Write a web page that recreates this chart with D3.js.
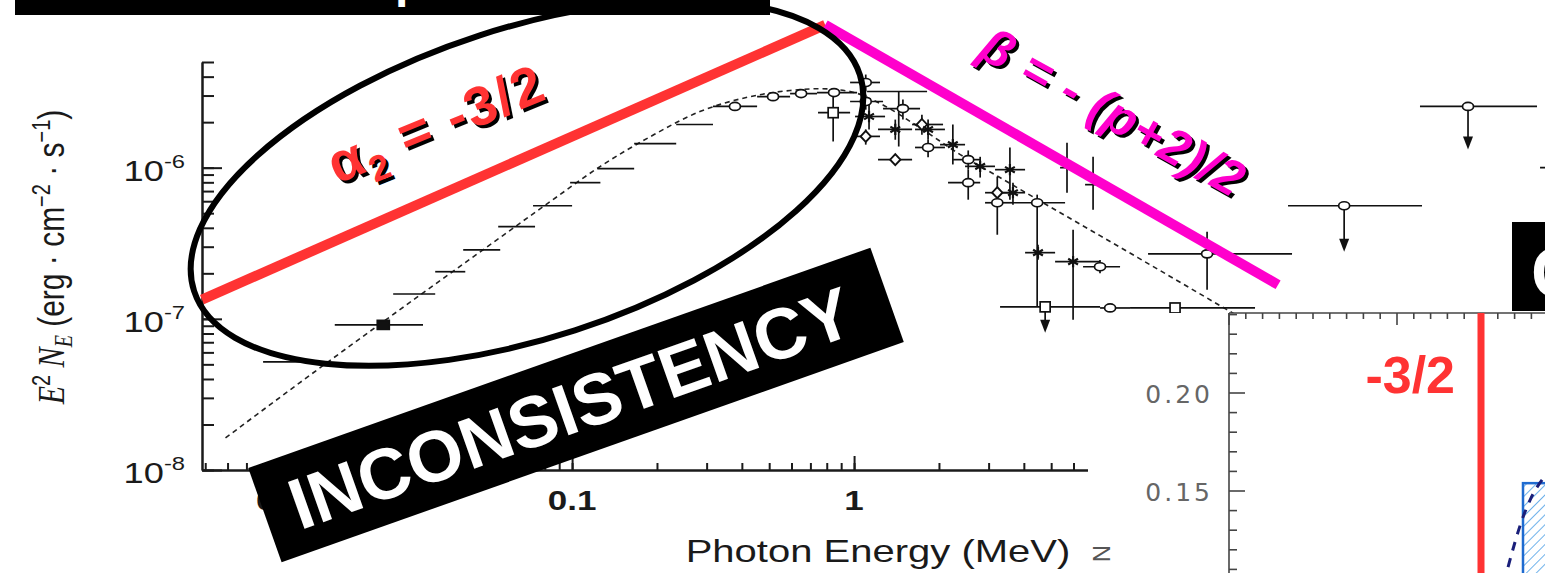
<!DOCTYPE html>
<html>
<head>
<meta charset="utf-8">
<style>
  body { margin: 0; background: #fff; }
  svg { display: block; font-family: "Liberation Sans", Arial, sans-serif; }
</style>
</head>
<body>
<script src="https://cdn.jsdelivr.net/npm/d3@7/dist/d3.min.js"></script>
<script>
var W = 1545, H = 573;

// ---- main spectrum, E in MeV, E^2 N_E in erg cm^-2 s^-1 ----
// dashed model curve
var modelE = [0.0059, 0.0108, 0.0245, 0.0483, 0.0836, 0.126, 0.189, 0.284, 0.428, 0.593,
              0.757, 0.968, 1.24, 1.71, 2.38, 3.29, 4.68, 7.45, 12.2, 21.0, 40];
var modelF = [1.63e-8, 3.77e-8, 1.15e-7, 2.86e-7, 5.96e-7, 1.02e-6, 1.60e-6, 2.35e-6, 2.95e-6, 3.24e-6,
              3.33e-6, 3.19e-6, 2.65e-6, 1.84e-6, 1.22e-6, 8.6e-7, 5.86e-7, 3.55e-7, 2.08e-7, 1.15e-7, 5.7e-8];

// measured points: [E, Elo, Ehi, F, Flo, Fhi, marker]
var points = [
  [0.0104, 0.00802, 0.0126, 5.19e-8, 5.19e-8, 5.19e-8, "none"],
  [0.0214, 0.0144, 0.0296, 9.12e-8, 9.12e-8, 9.12e-8, "fsq"],
  [0.0275, 0.0232, 0.0327, 1.46e-7, 1.46e-7, 1.46e-7, "none"],
  [0.0369, 0.0327, 0.0418, 2.05e-7, 2.05e-7, 2.05e-7, "none"],
  [0.0476, 0.0411, 0.0556, 2.86e-7, 2.86e-7, 2.86e-7, "none"],
  [0.0633, 0.0547, 0.0739, 4.07e-7, 4.07e-7, 4.07e-7, "none"],
  [0.0849, 0.0727, 0.100, 5.60e-7, 5.60e-7, 5.60e-7, "none"],
  [0.111, 0.0984, 0.126, 7.96e-7, 7.96e-7, 7.96e-7, "none"],
  [0.142, 0.123, 0.166, 9.85e-7, 9.85e-7, 9.85e-7, "none"],
  [0.197, 0.166, 0.234, 1.44e-6, 1.44e-6, 1.44e-6, "none"],
  [0.271, 0.234, 0.316, 1.93e-6, 1.93e-6, 1.93e-6, "none"],
  [0.378, 0.316, 0.453, 2.54e-6, 2.54e-6, 2.54e-6, "circ"],
  [0.516, 0.453, 0.593, 2.95e-6, 2.95e-6, 2.95e-6, "circ"],
  [0.649, 0.593, 0.739, 3.09e-6, 3.09e-6, 3.09e-6, "circ"],
  [0.849, 0.739, 1.025, 3.14e-6, 3.14e-6, 3.14e-6, "circ"],
  [0.843, 0.745, 0.968, 2.31e-6, 1.49e-6, 3.19e-6, "sq"],
  [1.10, 0.968, 1.236, 3.66e-6, 3.19e-6, 4.13e-6, "circ"],
  [1.10, 0.968, 1.267, 2.74e-6, 2.42e-6, 3.04e-6, "circ"],
  [1.13, 1.008, 1.288, 2.18e-6, 1.79e-6, 2.61e-6, "star"],
  [1.10, 0.984, 1.236, 1.61e-6, 1.42e-6, 1.79e-6, "diam"],
  [1.44, 1.112, 1.815, 3.19e-6, 1.38e-6, 3.19e-6, "none"],
  [1.49, 1.267, 1.714, 2.46e-6, 2.08e-6, 2.82e-6, "circ"],
  [1.40, 1.216, 1.606, 1.79e-6, 1.53e-6, 2.08e-6, "star"],
  [1.74, 1.606, 2.068, 1.93e-6, 1.65e-6, 2.24e-6, "diam"],
  [1.83, 1.645, 2.10, 1.79e-6, 1.53e-6, 2.08e-6, "star"],
  [1.40, 1.216, 1.606, 1.13e-6, 1.05e-6, 1.22e-6, "diam"],
  [1.83, 1.645, 2.10, 1.36e-6, 1.17e-6, 1.53e-6, "circ"],
  [2.24, 2.018, 2.475, 1.42e-6, 1.05e-6, 1.93e-6, "star"],
  [2.54, 2.244, 2.80, 1.13e-6, 9.7e-7, 1.30e-6, "circ"],
  [2.54, 2.154, 2.80, 7.96e-7, 6.14e-7, 9.7e-7, "circ"],
  [2.80, 2.475, 3.16, 1.02e-6, 8.6e-7, 1.18e-6, "star"],
  [3.57, 3.162, 4.04, 9.7e-7, 6.14e-7, 1.36e-6, "star"],
  [3.22, 2.914, 3.574, 6.83e-7, 6.83e-7, 6.83e-7, "diam"],
  [3.22, 2.914, 3.663, 5.86e-7, 3.60e-7, 8.72e-7, "circ"],
  [3.66, 3.294, 4.041, 6.83e-7, 5.69e-7, 7.96e-7, "star"],
  [4.46, 3.663, 5.601, 5.86e-7, 1.20e-7, 6.63e-7, "circ"],
  [4.49, 4.041, 5.163, 2.74e-7, 2.46e-7, 3.09e-7, "star"],
  [5.98, 5.163, 7.453, 2.39e-7, 9.85e-8, 3.89e-7, "star"],
  [7.45, 6.488, 8.775, 2.21e-7, 2.0e-7, 2.45e-7, "circ"],
  [5.69, 5.377, 6.077, 1.0e-6, 6.83e-7, 1.46e-6, "none"],
  [7.04, 6.595, 7.453, 7.72e-7, 5.27e-7, 1.18e-6, "none"],
  [8.09, 7.453, 9.52, 1.18e-7, 1.18e-7, 1.18e-7, "circ"],
  [13.75, 9.52, 26.42, 1.18e-7, 1.18e-7, 1.18e-7, "sq"],
  [17.86, 11.03, 35.74, 2.69e-7, 1.56e-7, 3.77e-7, "circ"]
];

// upper limits: [E, Elo, Ehi, F, arrow tip, marker]
var upperLimits = [
  [4.76, 3.294, 7.453, 1.20e-7, 8.08e-8, "sq"],
  [54.7, 34.59, 103.3, 5.60e-7, 2.78e-7, "circ"],
  [150.4, 101.6, 264.2, 2.54e-6, 1.32e-6, "circ"],
  [442, 270.8, 721, 1.0e-6, 5.0e-7, "circ"]
];

var xMajor = [0.01, 0.1, 1, 10, 100];
var xLabelled = [0.01, 0.1, 1];
var xLabels = ["0.01", "0.1", "1"];
var yMajor = [1e-8, 1e-7, 1e-6];
var yMajorExp = ["-8", "-7", "-6"];

// slope annotations drawn on the spectrum
var alphaLine = [[0.00487, 1.34e-7], [0.79, 8.8e-6]];
var betaLine = [[0.79, 8.8e-6], [31.9, 1.68e-7]];

// ---- inset: distribution of the low energy index ----
var insetYMajor = [0.15, 0.20];
var insetYLabels = ["0.15", "0.20"];
var insetMark = -1.5;
var insetBars = [[-1.25, -1.0, 0.154]];
var insetCurveX = [-1.339, -1.256, -1.208, -1.119];
var insetCurveY = [0.1112, 0.1352, 0.1454, 0.1577];

var red = "#ff3333", magenta = "#ff00cc";

var svg = d3.select("body").append("svg")
  .attr("width", W).attr("height", H);

svg.append("rect").attr("width", W).attr("height", H).attr("fill", "#fff");

var defs = svg.append("defs");
var hatch = defs.append("pattern").attr("id", "hatch")
  .attr("width", 7).attr("height", 7)
  .attr("patternUnits", "userSpaceOnUse")
  .attr("patternTransform", "rotate(45)");
hatch.append("rect").attr("width", 7).attr("height", 7).attr("fill", "#fff");
hatch.append("line").attr("x1", 0).attr("y1", 0).attr("x2", 0).attr("y2", 7)
  .attr("stroke", "#4a9fe6").attr("stroke-width", 1.6);

// scales
var x = d3.scaleLog().domain([0.00487, 282]).range([202, 1545]);
var y = d3.scaleLog().domain([1e-8, 5e-6]).range([470, 62]);

// ---- axes of the spectrum ----
var gx = svg.append("g").attr("transform", "translate(0,470)");
gx.call(d3.axisBottom(x).tickValues(x.ticks()).tickSize(-7).tickSizeOuter(0).tickFormat(""));
gx.append("g").call(d3.axisBottom(x).tickValues(xMajor).tickSize(-14).tickSizeOuter(0).tickFormat(""));
gx.selectAll("line, path").attr("stroke", "#1a1a1a").attr("stroke-width", 2);

var gy = svg.append("g").attr("transform", "translate(202,0)");
gy.call(d3.axisLeft(y).tickValues(y.ticks()).tickSize(-12).tickSizeOuter(0).tickFormat(""));
gy.append("g").call(d3.axisLeft(y).tickValues(yMajor).tickSize(-20).tickSizeOuter(0).tickFormat(""));
gy.selectAll("line, path").attr("stroke", "#1a1a1a").attr("stroke-width", 2);

// x tick labels
svg.append("g").selectAll("text").data(xLabelled).enter().append("text")
  .attr("transform", function(d) { return "translate(" + x(d) + ",510) scale(1.25,1)"; })
  .attr("text-anchor", "middle").attr("font-size", 28).attr("font-weight", "bold")
  .attr("fill", "#1a1a1a")
  .text(function(d, i) { return xLabels[i]; });

// y tick labels 10^n
var yl = svg.append("g").selectAll("text").data(yMajor).enter().append("text")
  .attr("transform", function(d) { return "translate(185," + (y(d) + 13) + ") scale(1.25,1)"; })
  .attr("text-anchor", "end").attr("fill", "#1a1a1a");
yl.append("tspan").attr("font-size", 29).text("10");
yl.append("tspan").attr("font-size", 19).attr("dy", -13).text(function(d, i) { return yMajorExp[i]; });

// axis titles
svg.append("text")
  .attr("transform", "translate(878,562) scale(1.25,1)")
  .attr("text-anchor", "middle").attr("font-size", 32).attr("fill", "#1a1a1a")
  .text("Photon Energy (MeV)");

var yt = svg.append("text")
  .attr("transform", "translate(64,257) scale(1.25,1) rotate(-90)")
  .attr("text-anchor", "middle").attr("font-size", 30).attr("fill", "#1a1a1a");
var serif = "'Liberation Serif', 'DejaVu Serif', serif";
yt.append("tspan").attr("font-family", serif).attr("font-style", "italic").text("E");
yt.append("tspan").attr("font-size", 20).attr("dy", -11).text("2");
yt.append("tspan").attr("font-family", serif).attr("font-style", "italic").attr("dy", 11).text(" N");
yt.append("tspan").attr("font-family", serif).attr("font-style", "italic").attr("font-size", 20).attr("dy", 6).text("E");
yt.append("tspan").attr("dy", -6).text(" (erg \u00b7 cm");
yt.append("tspan").attr("font-size", 20).attr("dy", -11).text("\u22122");
yt.append("tspan").attr("dy", 11).text(" \u00b7 s");
yt.append("tspan").attr("font-size", 20).attr("dy", -11).text("\u22121");
yt.append("tspan").attr("dy", 11).text(")");

// ---- model curve ----
svg.append("path")
  .datum(d3.zip(modelE, modelF))
  .attr("d", d3.line().x(function(d) { return x(d[0]); }).y(function(d) { return y(d[1]); })
    .curve(d3.curveMonotoneX))
  .attr("fill", "none").attr("stroke", "#222").attr("stroke-width", 1.6)
  .attr("stroke-dasharray", "5,4");

// ---- data points ----
var gd = svg.append("g").attr("stroke", "#111").attr("stroke-width", 1.7);

function marker(g, sym, cx, cy) {
  if (sym === "circ") {
    g.append("ellipse").attr("cx", cx).attr("cy", cy).attr("rx", 5.5).attr("ry", 4)
      .attr("fill", "#fff");
  } else if (sym === "sq") {
    g.append("rect").attr("x", cx - 5).attr("y", cy - 5).attr("width", 10).attr("height", 10)
      .attr("fill", "#fff");
  } else if (sym === "fsq") {
    g.append("rect").attr("x", cx - 6).attr("y", cy - 4.5).attr("width", 12).attr("height", 9)
      .attr("fill", "#111");
  } else if (sym === "diam") {
    g.append("path").attr("d", d3.symbol(d3.symbolDiamond, 55)())
      .attr("transform", "translate(" + cx + "," + cy + ") scale(1.3,0.8)")
      .attr("fill", "#fff");
  } else if (sym === "star") {
    g.append("path").attr("d", d3.symbol(d3.symbolAsterisk, 90)())
      .attr("transform", "translate(" + cx + "," + cy + ")")
      .attr("fill", "none").attr("stroke-width", 2.2);
  }
}

points.forEach(function(p) {
  var cx = x(p[0]), cy = y(p[3]);
  gd.append("line").attr("x1", x(p[1])).attr("x2", x(p[2])).attr("y1", cy).attr("y2", cy);
  if (p[4] !== p[5]) {
    gd.append("line").attr("x1", cx).attr("x2", cx).attr("y1", y(p[4])).attr("y2", y(p[5]));
  }
});
points.forEach(function(p) { marker(gd, p[6], x(p[0]), y(p[3])); });

upperLimits.forEach(function(p) {
  var cx = x(p[0]), cy = y(p[3]), tip = y(p[4]);
  gd.append("line").attr("x1", x(p[1])).attr("x2", x(p[2])).attr("y1", cy).attr("y2", cy);
  gd.append("line").attr("x1", cx).attr("x2", cx).attr("y1", cy).attr("y2", tip - 8);
  gd.append("path").attr("d", "M" + (cx - 5) + "," + (tip - 13) + "L" + (cx + 5) + "," + (tip - 13) +
    "L" + cx + "," + tip + "Z").attr("fill", "#111").attr("stroke", "none");
  marker(gd, p[5], cx, cy);
});

// ---- inset plot ----
var ix = d3.scaleLinear().domain([-3, -2]).range([1229, 1397]);
var iy = d3.scaleLinear().domain([0.15, 0.20]).range([491, 393]);

svg.append("rect").attr("x", 1088).attr("y", 313).attr("width", W - 1088).attr("height", H - 313)
  .attr("fill", "#fff");

var ib = svg.append("g");
insetBars.forEach(function(b) {
  ib.append("rect").attr("x", ix(b[0])).attr("y", iy(b[2]))
    .attr("width", ix(b[1]) - ix(b[0])).attr("height", H + 10 - iy(b[2]))
    .attr("fill", "url(#hatch)").attr("stroke", "#1f6bd0").attr("stroke-width", 2.5);
});
svg.append("path")
  .datum(d3.zip(insetCurveX, insetCurveY))
  .attr("d", d3.line().x(function(d) { return ix(d[0]); }).y(function(d) { return iy(d[1]); })
    .curve(d3.curveMonotoneX))
  .attr("fill", "none").attr("stroke", "#1a1f7a").attr("stroke-width", 3)
  .attr("stroke-dasharray", "9,8");

var iyTicks = d3.ticks(0.11, 0.24, 13);
var ixTicks = d3.ticks(-3, -1.1, 19);
var gi = svg.append("g").attr("stroke", "#444").attr("stroke-width", 1.6);
gi.append("line").attr("x1", 1229).attr("x2", 1229).attr("y1", 313).attr("y2", H);
gi.append("line").attr("x1", 1229).attr("x2", W).attr("y1", 313).attr("y2", 313);
gi.selectAll(".yt").data(iyTicks).enter().append("line")
  .attr("x1", 1229)
  .attr("x2", function(d) { return insetYMajor.some(function(m) { return Math.abs(m - d) < 1e-6; }) ? 1245 : 1237; })
  .attr("y1", function(d) { return iy(d); }).attr("y2", function(d) { return iy(d); });
gi.selectAll(".xt").data(ixTicks).enter().append("line")
  .attr("x1", function(d) { return ix(d); }).attr("x2", function(d) { return ix(d); })
  .attr("y1", 313)
  .attr("y2", function(d) { return Math.abs(d - Math.round(d)) < 1e-6 ? 325 : 319; });

svg.append("g").selectAll("text").data(insetYMajor).enter().append("text")
  .attr("x", 1213).attr("y", function(d) { return iy(d) + 10; })
  .attr("text-anchor", "end").attr("font-family", "'DejaVu Sans', sans-serif")
  .attr("font-size", 25).attr("letter-spacing", 3).attr("fill", "#666")
  .text(function(d, i) { return insetYLabels[i]; });

svg.append("text").attr("transform", "translate(1110,545) rotate(-90)")
  .attr("text-anchor", "end").attr("font-size", 24).attr("fill", "#555").text("N");

svg.append("line").attr("x1", ix(insetMark)).attr("x2", ix(insetMark))
  .attr("y1", 313).attr("y2", H).attr("stroke", red).attr("stroke-width", 7);
svg.append("text").attr("x", ix(insetMark) - 26).attr("y", 393)
  .attr("text-anchor", "end").attr("font-size", 52).attr("font-weight", "bold")
  .attr("fill", red).text("-3/2");

// ---- annotations ----
var slope = d3.line().x(function(d) { return x(d[0]); }).y(function(d) { return y(d[1]); });
svg.append("path").attr("d", slope(alphaLine)).attr("stroke", red).attr("stroke-width", 10)
  .attr("fill", "none");
svg.append("path").attr("d", slope(betaLine)).attr("stroke", magenta).attr("stroke-width", 10)
  .attr("fill", "none");

svg.append("ellipse").attr("cx", 527).attr("cy", 183).attr("rx", 350).attr("ry", 155)
  .attr("transform", "rotate(-18,527,183)")
  .attr("fill", "none").attr("stroke", "#000").attr("stroke-width", 6);

function alphaLabel(dx, fill) {
  var t = svg.append("text")
    .attr("transform", "translate(" + (337 + dx) + "," + (184 + dx) + ") rotate(-22)")
    .attr("font-size", 55).attr("font-weight", "bold").attr("letter-spacing", 2).attr("fill", fill);
  t.append("tspan").text("\u03b1");
  t.append("tspan").attr("font-size", 36).attr("dy", 13).text("2");
  t.append("tspan").attr("dy", -13).text(" = -3/2");
}
alphaLabel(3, "#000");
alphaLabel(0, red);

function betaLabel(dx, fill) {
  var t = svg.append("text")
    .attr("transform", "translate(" + (976 + dx) + "," + (56 + dx) + ") rotate(29)")
    .attr("font-size", 50).attr("font-weight", "bold").attr("font-style", "italic")
    .attr("letter-spacing", 1).attr("fill", fill);
  t.text("\u03b2 = - (p+2)/2");
}
betaLabel(3, "#000");
betaLabel(0, magenta);

// INCONSISTENCY stamp
var stamp = svg.append("g").attr("transform", "translate(576,405) rotate(-19.5)");
stamp.append("rect").attr("x", -330).attr("y", -50).attr("width", 660).attr("height", 100)
  .attr("fill", "#000");
stamp.append("text").attr("x", -6).attr("y", 26).attr("text-anchor", "middle")
  .attr("font-size", 72).attr("font-weight", "bold").attr("fill", "#fff")
  .text("INCONSISTENCY");

// title bar at the top, only its lower edge is in view
svg.append("rect").attr("x", 15).attr("y", -10).attr("width", 755).attr("height", 25)
  .attr("fill", "#000");
svg.append("text").attr("x", 395).attr("y", -3).attr("font-size", 48).attr("font-weight", "bold")
  .attr("fill", "#fff").text("p");

// black label box at the right edge
svg.append("rect").attr("x", 1512).attr("y", 222).attr("width", 60).attr("height", 89)
  .attr("fill", "#000");
svg.append("text").attr("x", 1531).attr("y", 297).attr("font-size", 70).attr("font-weight", "bold")
  .attr("fill", "#fff").text("C");
</script>
</body>
</html>
